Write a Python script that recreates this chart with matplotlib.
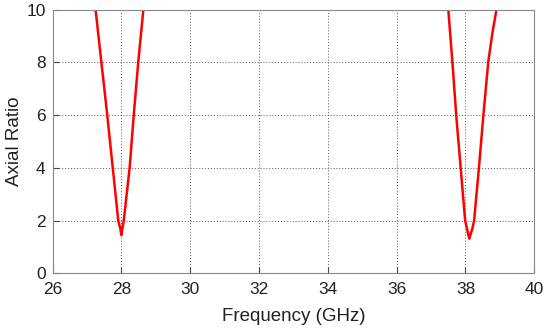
import matplotlib
matplotlib.use('Agg')
import matplotlib.pyplot as plt

# Axial ratio around the two resonances
freq_low = [27.20, 27.25, 27.42, 27.59, 27.75, 27.91, 27.97, 28.00, 28.03, 28.07, 28.24, 28.36, 28.49, 28.64, 28.70]
ar_low = [10.6, 10.0, 8.0, 6.0, 4.0, 2.0, 1.7, 1.45, 1.7, 2.0, 4.0, 6.0, 8.0, 10.0, 10.6]

freq_high = [37.46, 37.50, 37.62, 37.73, 37.86, 37.99, 38.11, 38.20, 38.25, 38.39, 38.52, 38.66, 38.78, 38.90, 38.95]
ar_high = [10.5, 10.0, 8.0, 6.0, 4.0, 2.0, 1.32, 1.7, 2.0, 4.0, 6.0, 8.0, 9.1, 10.0, 10.3]

x_ticks = [26, 28, 30, 32, 34, 36, 38, 40]
y_ticks = [0, 2, 4, 6, 8, 10]

plt.rcParams['font.family'] = ['Liberation Sans', 'DejaVu Sans']

fig = plt.figure(figsize=(5.5, 3.31), dpi=100)
ax = fig.add_axes([0.0955, 0.174, 0.876, 0.797])

ax.plot(freq_low, ar_low, color='red', linewidth=1.8)
ax.plot(freq_high, ar_high, color='red', linewidth=1.8)

ax.set_xlim(26, 40)
ax.set_ylim(0, 10)
ax.set_xticks(x_ticks)
ax.set_yticks(y_ticks)
ax.grid(True, linestyle=(0, (1, 2)), color='#555555', linewidth=0.7)
ax.tick_params(direction='in', length=4, labelsize=12.5, color='#444444', labelcolor='#222222')
ax.tick_params(axis='x', pad=6)
ax.tick_params(axis='y', pad=5)
for s in ax.spines.values():
    s.set_color('#888888')
    s.set_linewidth(0.8)

ax.set_xlabel('Frequency (GHz)', fontsize=13.5, labelpad=8, color='#222222')
ax.set_ylabel('Axial Ratio', fontsize=13.5, labelpad=2, color='#222222')

fig.savefig('out.png', dpi=100)
